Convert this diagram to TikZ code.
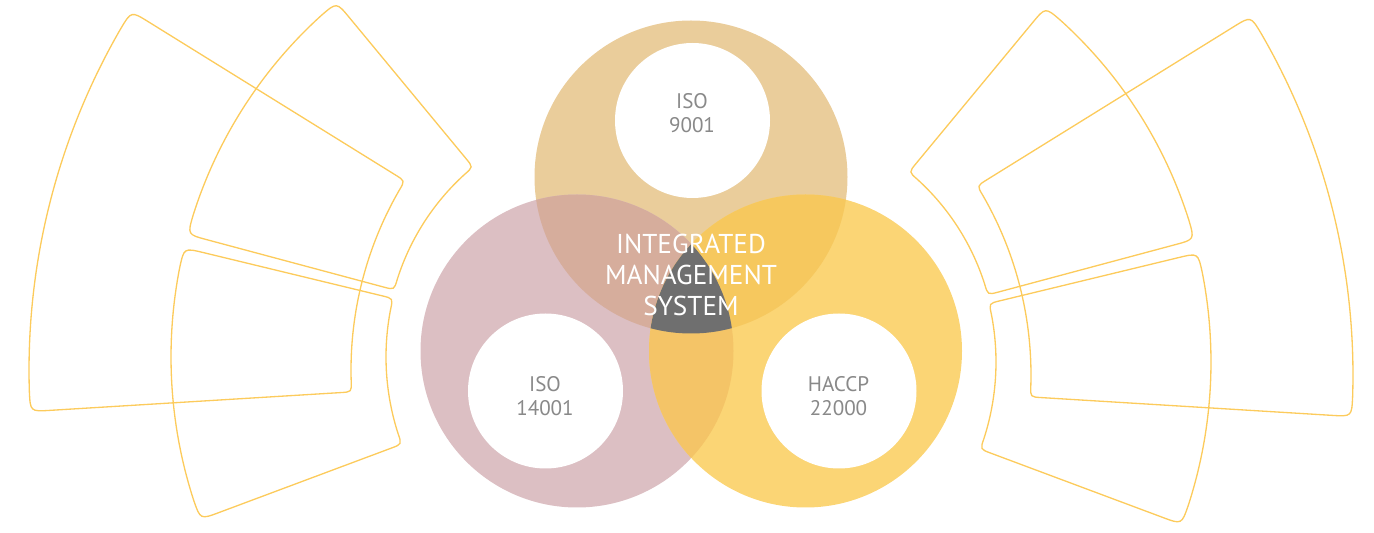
\documentclass[tikz,border=0pt]{standalone}
\usepackage{fontspec}
\setmainfont{PT Sans}
\usetikzlibrary{calc}

\definecolor{qualtan}{HTML}{EACD9B}
\definecolor{envmauve}{HTML}{DCBFC3}
\definecolor{foodyellow}{HTML}{FBD575}
\definecolor{tanmauve}{HTML}{D6AD9C}
\definecolor{tanyellow}{HTML}{F6C85E}
\definecolor{mauveyellow}{HTML}{F4C467}
\definecolor{coregray}{HTML}{6F6F6F}
\definecolor{fanyellow}{HTML}{FCCB5C}
\definecolor{stdgray}{HTML}{898989}

\tikzset{
  fanline/.style={draw=fanyellow, line width=0.75pt},
  stdtext/.style={text=stdgray, font=\fontsize{12}{13.5}\selectfont, align=center},
  imstext/.style={text=white, font=\fontsize{15.5}{17.5}\selectfont, align=center},
}

% one annular sector with rounded corners: centre x, centre y, from, to, inner, outer
\newcommand{\fanpiece}[6]{%
  \pgfmathsetmacro{\dout}{20/#6*180/pi}
  \pgfmathsetmacro{\din}{11/#5*180/pi}
  \draw[fanline] ($(#1,#2)+(#3:#5+11)$) -- ($(#1,#2)+(#3:#6-20)$)
    .. controls ($(#1,#2)+(#3:#6)$) .. ($(#1,#2)+(#3+\dout:#6)$)
    arc[start angle=#3+\dout, end angle=#4-\dout, radius=#6]
    .. controls ($(#1,#2)+(#4:#6)$) .. ($(#1,#2)+(#4:#6-20)$)
    -- ($(#1,#2)+(#4:#5+11)$)
    .. controls ($(#1,#2)+(#4:#5)$) .. ($(#1,#2)+(#4-\din:#5)$)
    arc[start angle=#4-\din, end angle=#3+\din, radius=#5]
    .. controls ($(#1,#2)+(#3:#5)$) .. ($(#1,#2)+(#3:#5+11)$) -- cycle;}

\begin{document}
\begin{tikzpicture}[x=0.02cm, y=0.02cm]
  \useasboundingbox (0,0) rectangle (1374,-533);

  % fan on the left, the right one is its mirror image
  \fanpiece{710}{-370}{148.2}{183.5}{359}{681}
  \fanpiece{626}{-352}{129.6}{165}{240}{454}
  \fanpiece{635}{-357}{166.4}{200.5}{249}{464}
  \begin{scope}[shift={(1382,-5)}, xscale=-1]
    \fanpiece{710}{-370}{148.2}{183.5}{359}{681}
    \fanpiece{626}{-352}{129.6}{165}{240}{454}
    \fanpiece{635}{-357}{166.4}{200.5}{249}{464}
  \end{scope}

  \coordinate (qual) at (691,-177);
  \coordinate (env) at (577,-351);
  \coordinate (food) at (805.5,-351);

  \fill[qualtan] (qual) circle[radius=156.5];
  \fill[envmauve] (env) circle[radius=156.5];
  \fill[foodyellow] (food) circle[radius=156.5];
  \begin{scope}
    \clip (qual) circle[radius=156.5];
    \fill[tanmauve] (env) circle[radius=156.5];
    \fill[tanyellow] (food) circle[radius=156.5];
  \end{scope}
  \begin{scope}
    \clip (env) circle[radius=156.5];
    \fill[mauveyellow] (food) circle[radius=156.5];
    \clip (qual) circle[radius=156.5];
    \fill[coregray] (food) circle[radius=156.5];
  \end{scope}

  \fill[white] (692.5,-120.5) circle[radius=77.5];
  \fill[white] (545.5,-391) circle[radius=77.5];
  \fill[white] (839,-391) circle[radius=77.5];

  \node[stdtext] (iso9001) at (692,-113) {ISO\\9001};
  \node[stdtext] (iso14001) at (545,-396) {ISO\\14001};
  \node[stdtext] (haccp) at (838.5,-396) {HACCP\\22000};
  \node[imstext] (ims) at (691,-275) {INTEGRATED\\MANAGEMENT\\SYSTEM};
\end{tikzpicture}
\end{document}
